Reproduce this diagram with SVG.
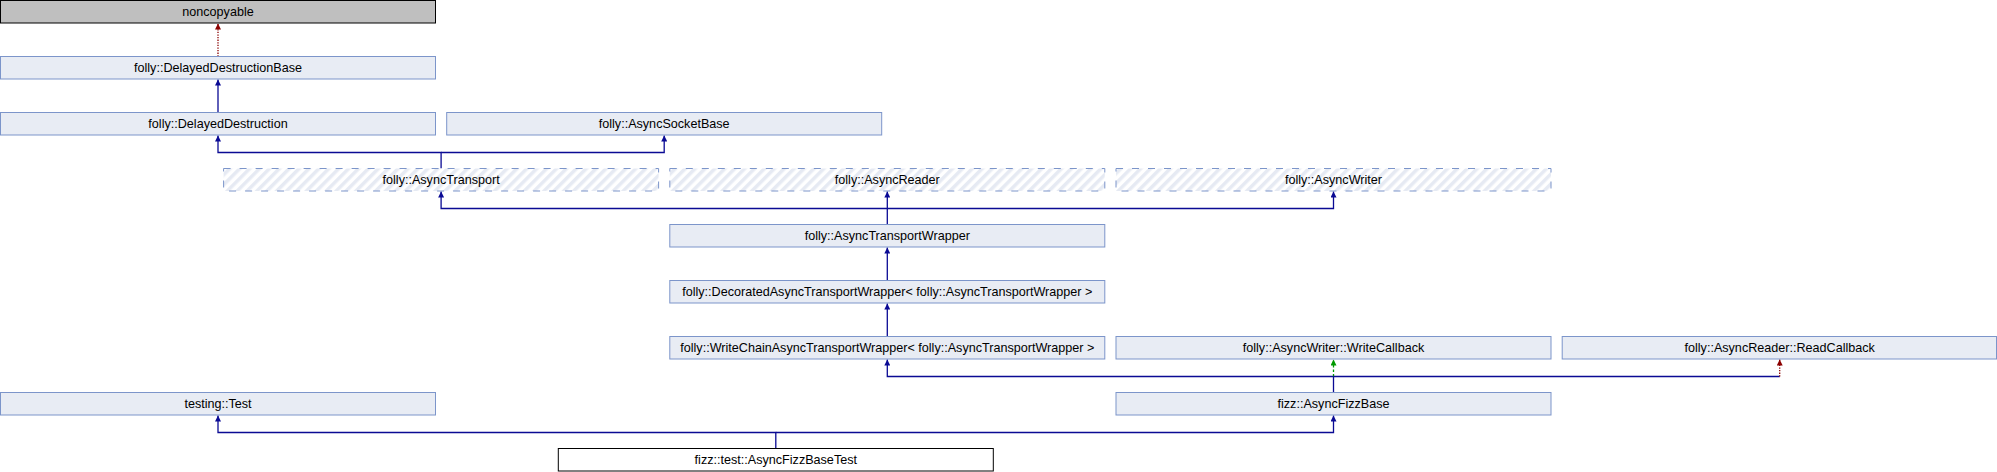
<svg xmlns="http://www.w3.org/2000/svg" width="1997" height="472" viewBox="0 0 1997 472">
<style>
.node rect{fill:#E8ECF4;stroke:#7C95CA;stroke-width:1}
.node.gray rect{fill:#BFBFBF;stroke:#000000}
.node.cur rect{fill:#FFFFFF;stroke:#000000}
.node.hatch rect{fill:url(#hatch);stroke:#7C95CA;stroke-dasharray:7 9}
text{font-family:"Liberation Sans",Arial,sans-serif;font-size:12.6px;fill:#000000;text-anchor:middle}
.e{fill:none;stroke-width:1.3}
.b{stroke:#0A0A94;marker-end:url(#ab)}
.bl{stroke:#0A0A94}
.r{stroke:#8B0000;stroke-dasharray:1.3 1.3;marker-end:url(#ar)}
.g{stroke:#009900;stroke-dasharray:2.5 2;marker-end:url(#ag)}
</style>
<defs>
<pattern id="hatch" patternUnits="userSpaceOnUse" width="7" height="7" patternTransform="rotate(45)">
<rect x="0" y="0" width="7" height="7" fill="#FFFFFF"/>
<rect x="0" y="0" width="3.5" height="7" fill="#E6EAF3"/>
</pattern>
<marker id="ab" viewBox="0 0 10 10" refX="10" refY="5" markerWidth="6.5" markerHeight="6" markerUnits="userSpaceOnUse" orient="auto"><path d="M0,0 L10,5 L0,10 z" fill="#0A0A94"/></marker>
<marker id="ar" viewBox="0 0 10 10" refX="10" refY="5" markerWidth="6.5" markerHeight="6" markerUnits="userSpaceOnUse" orient="auto"><path d="M0,0 L10,5 L0,10 z" fill="#8B0000"/></marker>
<marker id="ag" viewBox="0 0 10 10" refX="10" refY="5" markerWidth="6.5" markerHeight="6" markerUnits="userSpaceOnUse" orient="auto"><path d="M0,0 L10,5 L0,10 z" fill="#009900"/></marker>
</defs>
<rect x="0" y="0" width="1997" height="472" fill="#FFFFFF"/>

<g id="connectors">
<path class="e r" d="M218,56.5 L218,23.5"/>
<path class="e b" d="M218,112.5 L218,79.5"/>
<path class="e b" d="M441.1,168.5 L441.1,152.5 L218,152.5 L218,135.5"/>
<path class="e b" d="M441.1,152.5 L664.2,152.5 L664.2,135.5"/>
<path class="e b" d="M887.3,208.5 L441.1,208.5 L441.1,191.5"/>
<path class="e b" d="M887.3,224.5 L887.3,191.5"/>
<path class="e b" d="M887.3,208.5 L1333.5,208.5 L1333.5,191.5"/>
<path class="e b" d="M887.3,280.5 L887.3,247.5"/>
<path class="e b" d="M887.3,336.5 L887.3,303.5"/>
<path class="e b" d="M1333.5,392.5 L1333.5,376.5 L887.3,376.5 L887.3,359.5"/>
<path class="e g" d="M1333.5,376.5 L1333.5,359.5"/>
<path class="e bl" d="M1333.5,376.5 L1779.7,376.5"/>
<path class="e r" d="M1779.7,376.5 L1779.7,359.5"/>
<path class="e b" d="M775.8,448.5 L775.8,432.5 L218,432.5 L218,415.5"/>
<path class="e b" d="M775.8,432.5 L1333.5,432.5 L1333.5,415.5"/>
</g>

<g id="noncopyable" class="node gray"><rect x="0.5" y="0.5" width="435" height="22.5"/><text x="218" y="16">noncopyable</text></g>
<g id="DelayedDestructionBase" class="node"><rect x="0.5" y="56.5" width="435" height="22.5"/><text x="218" y="72">folly::DelayedDestructionBase</text></g>
<g id="DelayedDestruction" class="node"><rect x="0.5" y="112.5" width="435" height="22.5"/><text x="218" y="128">folly::DelayedDestruction</text></g>
<g id="AsyncSocketBase" class="node"><rect x="446.7" y="112.5" width="435" height="22.5"/><text x="664.2" y="128">folly::AsyncSocketBase</text></g>
<g id="AsyncTransport" class="node hatch"><rect x="223.6" y="168.5" width="435" height="22.5"/><text x="441.1" y="184">folly::AsyncTransport</text></g>
<g id="AsyncReader" class="node hatch"><rect x="669.8" y="168.5" width="435" height="22.5"/><text x="887.3" y="184">folly::AsyncReader</text></g>
<g id="AsyncWriter" class="node hatch"><rect x="1116" y="168.5" width="435" height="22.5"/><text x="1333.5" y="184">folly::AsyncWriter</text></g>
<g id="AsyncTransportWrapper" class="node"><rect x="669.8" y="224.5" width="435" height="22.5"/><text x="887.3" y="240">folly::AsyncTransportWrapper</text></g>
<g id="DecoratedAsyncTransportWrapper" class="node"><rect x="669.8" y="280.5" width="435" height="22.5"/><text x="887.3" y="296">folly::DecoratedAsyncTransportWrapper&lt; folly::AsyncTransportWrapper &gt;</text></g>
<g id="WriteChainAsyncTransportWrapper" class="node"><rect x="669.8" y="336.5" width="435" height="22.5"/><text x="887.3" y="352">folly::WriteChainAsyncTransportWrapper&lt; folly::AsyncTransportWrapper &gt;</text></g>
<g id="WriteCallback" class="node"><rect x="1116" y="336.5" width="435" height="22.5"/><text x="1333.5" y="352">folly::AsyncWriter::WriteCallback</text></g>
<g id="ReadCallback" class="node"><rect x="1562.2" y="336.5" width="434.3" height="22.5"/><text x="1779.7" y="352">folly::AsyncReader::ReadCallback</text></g>
<g id="testingTest" class="node"><rect x="0.5" y="392.5" width="435" height="22.5"/><text x="218" y="408">testing::Test</text></g>
<g id="AsyncFizzBase" class="node"><rect x="1116" y="392.5" width="435" height="22.5"/><text x="1333.5" y="408">fizz::AsyncFizzBase</text></g>
<g id="AsyncFizzBaseTest" class="node cur"><rect x="558.3" y="448.5" width="435" height="22.5"/><text x="775.8" y="464">fizz::test::AsyncFizzBaseTest</text></g>
</svg>
